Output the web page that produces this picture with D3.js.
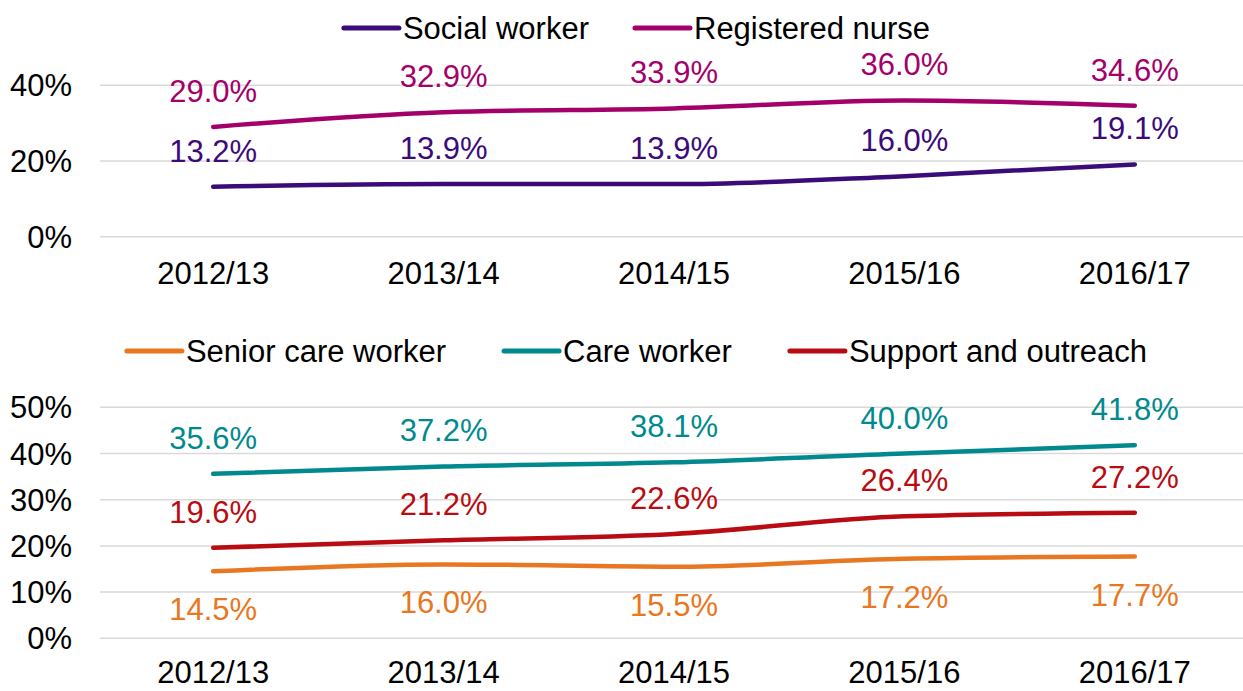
<!DOCTYPE html>
<html lang="en">
<head>
    <meta charset="utf-8" />
    <title>Turnover rate by job role</title>
    <script src="https://cdnjs.cloudflare.com/ajax/libs/d3/7.8.5/d3.min.js"></script>
    <style>
        body { margin: 0; background: #fff; }
        svg text {
            font-family: "Liberation Sans", Arial, sans-serif;
            font-size: 31px;
        }
    </style>
</head>
<body>
<div id="chart"></div>
<script>
    // Data
    const years = ["2012/13", "2013/14", "2014/15", "2015/16", "2016/17"];

    const socialWorker = [13.2, 13.9, 13.9, 16.0, 19.1];
    const registeredNurse = [29.0, 32.9, 33.9, 36.0, 34.6];

    const seniorCareWorker = [14.5, 16.0, 15.5, 17.2, 17.7];
    const careWorker = [35.6, 37.2, 38.1, 40.0, 41.8];
    const supportOutreach = [19.6, 21.2, 22.6, 26.4, 27.2];

    const topTicks = [0, 20, 40];
    const bottomTicks = [0, 10, 20, 30, 40, 50];

    const width = 1243;
    const height = 691;

    const svg = d3.select("#chart")
        .append("svg")
        .attr("width", width)
        .attr("height", height);

    // Shared x scale for both panels
    const x = d3.scalePoint()
        .domain(years)
        .range([98, 1250])
        .padding(0.5);

    const panels = [
        {
            domain: [0, 40], range: [236.7, 85.3], ticks: topTicks,
            legendY: 28, legendGap: 46, xLabelOffset: 36,
            series: [
                { name: "Social worker", values: socialWorker, color: "#3b0b7a", pos: "above" },
                { name: "Registered nurse", values: registeredNurse, color: "#a3006a", pos: "above" }
            ]
        },
        {
            domain: [0, 50], range: [638.3, 407.3], ticks: bottomTicks,
            legendY: 351, legendGap: 58, xLabelOffset: 34,
            series: [
                { name: "Senior care worker", values: seniorCareWorker, color: "#e87722", pos: "below" },
                { name: "Care worker", values: careWorker, color: "#008a90", pos: "above" },
                { name: "Support and outreach", values: supportOutreach, color: "#b90c12", pos: "above" }
            ]
        }
    ];

    panels.forEach(p => {
        const y = d3.scaleLinear().domain(p.domain).range(p.range);
        const g = svg.append("g");

        // gridlines
        g.selectAll(".grid")
            .data(p.ticks)
            .enter()
            .append("line")
            .attr("x1", 100)
            .attr("x2", width)
            .attr("y1", d => y(d))
            .attr("y2", d => y(d))
            .attr("stroke", "#d9d9d9")
            .attr("stroke-width", 1.5);

        // y tick labels
        g.selectAll(".ytick")
            .data(p.ticks)
            .enter()
            .append("text")
            .attr("x", 72)
            .attr("y", d => y(d))
            .attr("dy", "0.36em")
            .attr("text-anchor", "end")
            .attr("fill", "#000")
            .text(d => d + "%");

        // x labels
        g.selectAll(".xtick")
            .data(years)
            .enter()
            .append("text")
            .attr("x", d => x(d))
            .attr("y", y(0) + p.xLabelOffset)
            .attr("dy", "0.36em")
            .attr("text-anchor", "middle")
            .attr("fill", "#000")
            .text(d => d);

        const line = d3.line()
            .x((d, i) => x(years[i]))
            .y(d => y(d))
            .curve(d3.curveMonotoneX);

        p.series.forEach(s => {
            g.append("path")
                .datum(s.values)
                .attr("d", line)
                .attr("fill", "none")
                .attr("stroke", s.color)
                .attr("stroke-width", 4.5)
                .attr("stroke-linecap", "round")
                .attr("stroke-linejoin", "round");

            g.selectAll(null)
                .data(s.values)
                .enter()
                .append("text")
                .attr("x", (d, i) => x(years[i]))
                .attr("y", d => s.pos === "above" ? y(d) - 25 : y(d) + 49)
                .attr("text-anchor", "middle")
                .attr("fill", s.color)
                .text(d => d.toFixed(1) + "%");
        });

        // legend, centred above the panel
        const legend = g.append("g");
        let cx = 0;
        p.series.forEach((s, i) => {
            const item = legend.append("g").attr("transform", `translate(${cx},0)`);
            item.append("line")
                .attr("x1", 0).attr("x2", 55)
                .attr("y1", p.legendY).attr("y2", p.legendY)
                .attr("stroke", s.color)
                .attr("stroke-width", 5)
                .attr("stroke-linecap", "round");
            const t = item.append("text")
                .attr("x", 59)
                .attr("y", p.legendY)
                .attr("dy", "0.36em")
                .attr("fill", "#000")
                .text(s.name);
            cx += 59 + t.node().getComputedTextLength() + (i < p.series.length - 1 ? p.legendGap : 0);
        });
        legend.attr("transform", `translate(${637 - cx / 2},0)`);
    });
</script>
</body>
</html>
